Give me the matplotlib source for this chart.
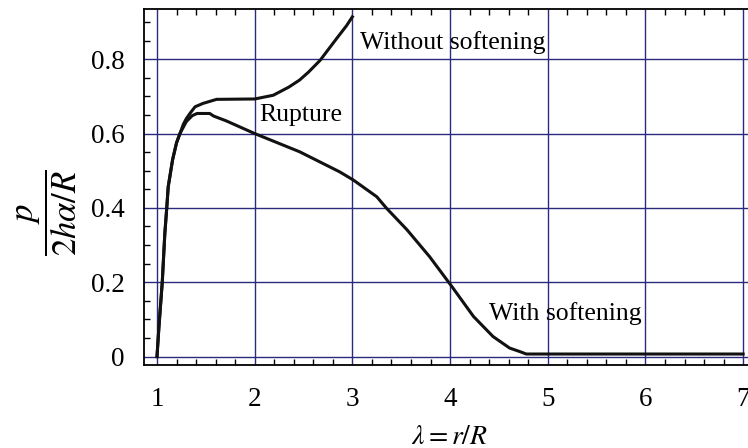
import numpy as np
import matplotlib
matplotlib.use("Agg")
import matplotlib.pyplot as plt
from matplotlib.ticker import MultipleLocator

plt.rcParams['font.family'] = ['Liberation Serif', 'DejaVu Serif']
plt.rcParams['mathtext.fontset'] = 'stix'

# curve "without softening" (lambda, p / (2 h alpha / R))
lam_hard = [1.0, 1.02, 1.054, 1.08, 1.1, 1.115, 1.16, 1.2, 1.235, 1.27, 1.3, 1.34, 1.39, 1.47,
            1.61, 2.0, 2.19, 2.35, 2.46, 2.55, 2.67, 2.84, 2.94, 3.0]
p_hard = [0.0, 0.08, 0.2, 0.33, 0.4, 0.457, 0.53, 0.575, 0.6, 0.625, 0.64, 0.655, 0.672, 0.681,
          0.692, 0.693, 0.703, 0.725, 0.744, 0.765, 0.797, 0.856, 0.89, 0.914]

# curve "with softening"
lam_soft = [1.0, 1.02, 1.054, 1.08, 1.1, 1.115, 1.16, 1.2, 1.235, 1.3, 1.36, 1.41, 1.54,
            1.58, 1.71, 2.0, 2.46, 2.87, 3.01, 3.25, 3.35, 3.56, 3.79, 4.02, 4.24, 4.44,
            4.61, 4.72, 4.78, 7.0]
p_soft = [0.0, 0.08, 0.2, 0.33, 0.4, 0.457, 0.53, 0.575, 0.6, 0.632, 0.648, 0.654, 0.654,
          0.647, 0.634, 0.6, 0.551, 0.497, 0.475, 0.43, 0.399, 0.341, 0.269, 0.188, 0.108,
          0.054, 0.023, 0.013, 0.007, 0.007]

labels = ["Without softening", "Rupture", "With softening"]
label_pos = [(3.08, 0.846), (2.05, 0.65), (4.40, 0.117)]

fig = plt.figure(figsize=(7.48, 4.48), dpi=100)
ax = fig.add_axes([0.1925, 0.1853, 0.8075, 0.7946])

ax.plot(lam_hard, p_hard, color='#111111', lw=2.2)
ax.plot(lam_soft, p_soft, color='#111111', lw=2.2)

for txt, (xx, yy) in zip(labels, label_pos):
    ax.text(xx, yy, txt, fontsize=18.5, ha='left', va='center')

ax.set_xlim(0.867, 7.05)
ax.set_ylim(-0.0225, 0.935)
ax.xaxis.set_major_locator(MultipleLocator(1))
ax.xaxis.set_minor_locator(MultipleLocator(0.2))
ax.yaxis.set_major_locator(MultipleLocator(0.2))
ax.yaxis.set_minor_locator(MultipleLocator(0.05))
ax.set_yticks([0, 0.2, 0.4, 0.6, 0.8])
ax.set_yticklabels(["0", "0.2", "0.4", "0.6", "0.8"])
ax.set_xticks([1, 2, 3, 4, 5, 6, 7])

ax.grid(True, which='major', color='#2a2a7e', lw=1.0)
ax.tick_params(which='both', direction='in', top=True, right=False, labelsize=19.5, width=1.0)
ax.tick_params(which='major', length=0)
ax.tick_params(which='minor', length=4)
ax.tick_params(axis='x', which='major', pad=16)
ax.tick_params(axis='y', which='major', pad=14)
ax.spines['right'].set_visible(False)
for s in ['left', 'bottom', 'top']:
    ax.spines[s].set_linewidth(1.3)

fig.text(449 / 748, 1 - 437 / 448, r'$\lambda = r/R$', fontsize=20, ha='center', va='center')
fig.text(47 / 748, 1 - 213 / 448, r'$\dfrac{p}{2h\alpha/R}$', fontsize=25,
         rotation=90, ha='center', va='center')

fig.savefig("out.png", dpi=100)
